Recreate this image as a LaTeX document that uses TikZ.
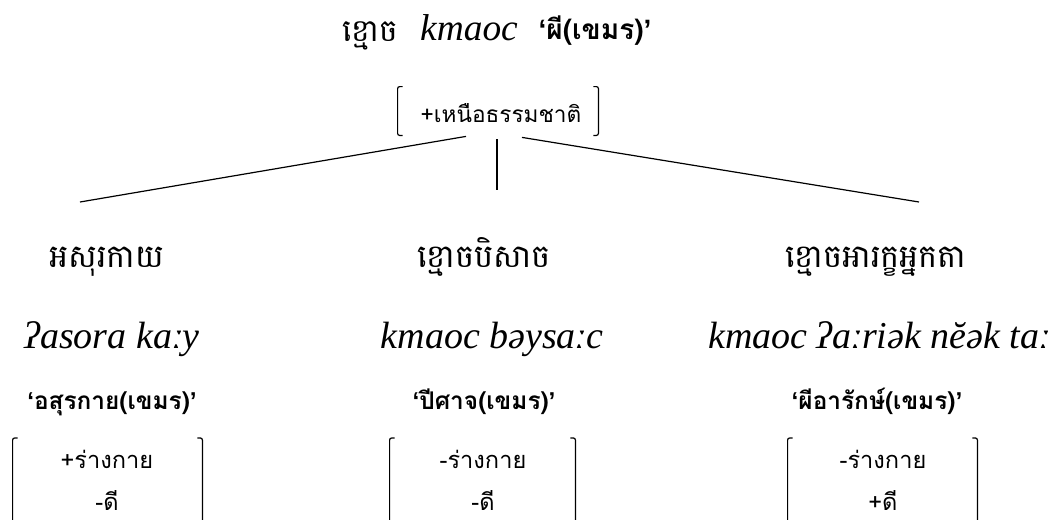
\documentclass[tikz,border=0pt]{standalone}
\usepackage{fontspec}
\newfontfamily\thaifont[Script=Thai]{Loma}
\newfontfamily\khmerfont[Script=Khmer]{Battambang}
\newfontfamily\romfont{Liberation Serif}
\newfontfamily\quotefont{Liberation Sans}
\newcommand\gl[1]{{\quotefont ‘}#1{\quotefont ’}}
\usetikzlibrary{calc,positioning}

\tikzset{
  khm/.style={font=\khmerfont\fontsize{16}{18}\selectfont,inner sep=0pt},
  rom/.style={font=\romfont\itshape\fontsize{19}{22}\selectfont,inner sep=0pt},
  gloss/.style={font=\thaifont\bfseries\fontsize{12.2}{14}\selectfont,inner sep=0pt},
  feat/.style={font=\thaifont\fontsize{11.8}{14}\selectfont,inner sep=0pt},
  frame/.style={inner sep=0pt,minimum height=10pt},
  brk/.style={line width=0.6pt,rounded corners=1pt}
}

\begin{document}
\begin{tikzpicture}[x=0.5pt,y=-0.5pt]
  \useasboundingbox (0,0) rectangle (1051,520);
  \coordinate (bot) at (0,530);
  % heading
  \node[khm,anchor=base,font=\khmerfont\fontsize{15.5}{18}\selectfont] (tKh) at (370,41) {ខ្មោច};
  \node[rom,anchor=base,font=\romfont\itshape\fontsize{18.7}{22}\selectfont] (tRom) at (469,40) {kmaoc};
  \node[gloss,anchor=base,font=\thaifont\bfseries\fontsize{14}{16}\selectfont] (tTh) at (595,39) {\gl{ผี(เขมร)}};
  % feature of the whole class
  \node[feat,minimum width=100pt,minimum height=24pt] (top) at (498,111) {};
  \node[feat,anchor=base,font=\thaifont\fontsize{11.3}{14}\selectfont] (topT) at (501,122) {+เหนือธรรมชาติ};
  \draw[brk] ($(top.north west)+(5,0)$) -- (top.north west) -- (top.south west) -- ++(5,0);
  \draw[brk] ($(top.north east)+(-5,0)$) -- (top.north east) -- (top.south east) -- ++(-5,0);
  % branches
  \coordinate (eA) at (80,202);
  \coordinate (eB) at (497,190);
  \coordinate (eC) at (919,202);
  \draw[line width=0.6pt] ($(top.south)+(-32,1)$) -- (eA);
  \draw[line width=0.6pt] ($(top.south)+(-1,4)$) -- (eB);
  \draw[line width=0.6pt] ($(top.south)+(24,2)$) -- (eC);
  % daughters
  \node[khm,anchor=base] (kA) at (107,267) {អសុរកាយ};
  \node[khm,anchor=base] (kB) at (484,267) {ខ្មោចបិសាច};
  \node[khm,anchor=base] (kC) at (876,267) {ខ្មោចអារក្ខអ្នកតា};
  \node[rom,anchor=base] (rA) at (112,348) {ʔasora kaːy};
  \node[rom,anchor=base] (rB) at (492,348) {kmaoc bəysaːc};
  \node[rom,anchor=base] (rC) at (879,348) {kmaoc ʔaːriək nĕək taː};
  \node[gloss,anchor=base] (gA) at (112,409) {\gl{อสุรกาย(เขมร)}};
  \node[gloss,anchor=base] (gB) at (484,409) {\gl{ปีศาจ(เขมร)}};
  \node[gloss,anchor=base] (gC) at (877,409) {\gl{ผีอารักษ์(เขมร)}};
  % feature frames, open at the foot
  \node[frame,anchor=north,minimum width=94.5pt] (fA) at (107.5,438) {};
  \node[frame,anchor=north,minimum width=92.5pt] (fB) at (482.5,438) {};
  \node[frame,anchor=north,minimum width=94.5pt] (fC) at (882.5,438) {};
  \node[feat,anchor=base] (fA1) at (107,468) {+ร่างกาย};
  \node[feat,anchor=base] (fA2) at (107,510) {-ดี};
  \node[feat,anchor=base] (fB1) at (483,468) {-ร่างกาย};
  \node[feat,anchor=base] (fB2) at (483,510) {-ดี};
  \node[feat,anchor=base] (fC1) at (883,468) {-ร่างกาย};
  \node[feat,anchor=base] (fC2) at (883,510) {+ดี};
  \foreach \n in {fA,fB,fC} {
    \draw[brk] ($(\n.north west)+(5,0)$) -- (\n.north west) -- (\n.north west |- bot);
    \draw[brk] ($(\n.north east)+(-5,0)$) -- (\n.north east) -- (\n.north east |- bot);
  }
\end{tikzpicture}
\end{document}
